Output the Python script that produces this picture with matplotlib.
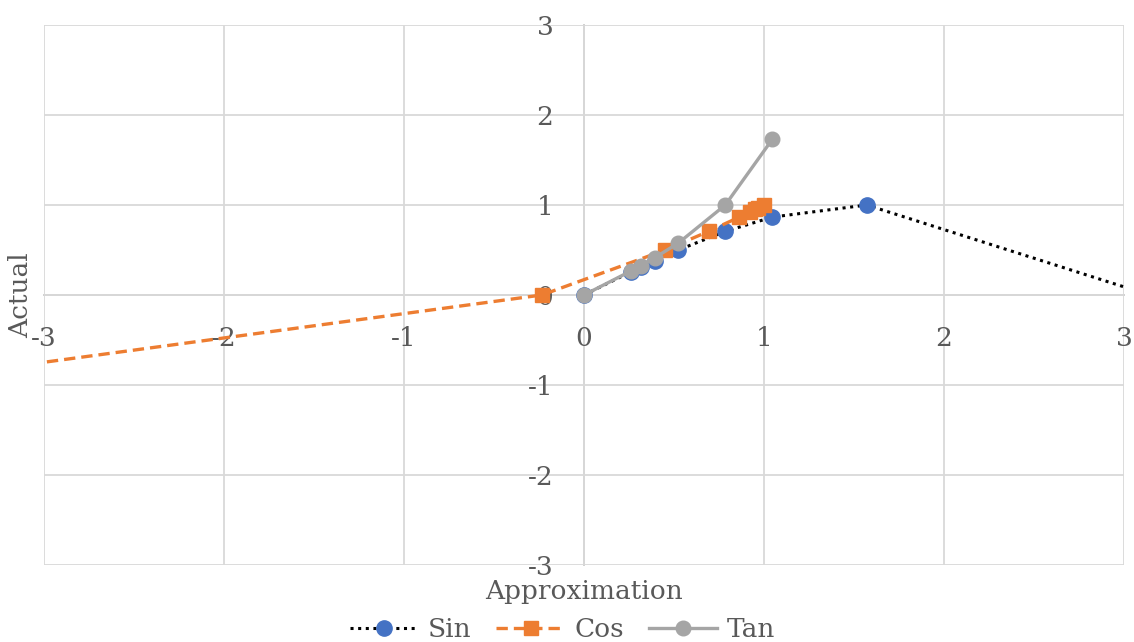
import matplotlib.pyplot as plt

# values (x = approximation, y = actual)
sin_x = [0.0, 0.262, 0.314, 0.393, 0.524, 0.785, 1.047, 1.571, 3.142]
sin_y = [0.0, 0.259, 0.309, 0.383, 0.500, 0.707, 0.866, 1.000, 0.000]

cos_x = [1.000, 0.966, 0.951, 0.923, 0.863, 0.692, 0.452, -0.234, -3.935]
cos_y = [1.000, 0.966, 0.951, 0.924, 0.866, 0.707, 0.500, 0.000, -1.000]

tan_x = [0.0, 0.262, 0.314, 0.393, 0.524, 0.785, 1.047]
tan_y = [0.0, 0.268, 0.325, 0.414, 0.577, 1.000, 1.732]

ticks = [-3, -2, -1, 0, 1, 2, 3]

text_color = '#595959'
grid_color = '#D9D9D9'
plt.rcParams['font.family'] = ['DejaVu Serif']
fs = 19

fig = plt.figure(figsize=(11.34, 6.42), dpi=100)
ax = fig.add_axes([44 / 1134, 77 / 642, 1080 / 1134, 540 / 642])

ax.plot(sin_x, sin_y, color='black', lw=2.2, linestyle=(0, (1, 1.5)),
        marker='o', markersize=11, markerfacecolor='#4472C4',
        markeredgecolor='#4472C4', label='Sin')
ax.plot(cos_x, cos_y, color='#ED7D31', lw=2.4, linestyle=(0, (3.4, 1.8)),
        marker='s', markersize=9.5, markerfacecolor='#ED7D31',
        markeredgecolor='#ED7D31', label='Cos')
ax.plot(tan_x, tan_y, color='#A5A5A5', lw=2.4, linestyle='-',
        marker='o', markersize=10.5, markerfacecolor='#A5A5A5',
        markeredgecolor='#A5A5A5', label='Tan')

ax.set_xlim(-3, 3)
ax.set_ylim(-3, 3)
ax.set_xticks(ticks)
ax.set_yticks(ticks)
ax.set_xticklabels([str(t) for t in ticks])
ax.set_yticklabels([str(t) for t in ticks])

# axes cross at the origin, Excel style
ax.spines['left'].set_position(('data', 0))
ax.spines['bottom'].set_position(('data', 0))
ax.spines['top'].set_visible(False)
ax.spines['right'].set_visible(False)
for s in ['left', 'bottom']:
    ax.spines[s].set_color('#C8C8C8')
    ax.spines[s].set_linewidth(1.3)
    ax.spines[s].set_zorder(0.5)

ax.grid(True, color=grid_color, linewidth=1.3, zorder=0)
ax.set_axisbelow(True)
ax.tick_params(axis='both', length=0, labelsize=fs, labelcolor=text_color)
ax.tick_params(axis='x', pad=22)
ax.tick_params(axis='y', pad=22)

ax.set_xlabel('Approximation', fontsize=fs, color=text_color)
ax.xaxis.set_label_coords(0.5, -0.05)
ax.xaxis.label.set_verticalalignment('center')
ax.set_ylabel('Actual', fontsize=fs, color=text_color)
ax.yaxis.set_label_coords(-0.022, 0.5)
ax.yaxis.label.set_verticalalignment('center')

leg = ax.legend(loc='center', bbox_to_anchor=(0.48, -0.119), ncol=3,
                frameon=False, fontsize=fs, handlelength=2.6,
                handletextpad=0.35, columnspacing=0.95)
for t in leg.get_texts():
    t.set_color(text_color)

fig.savefig('out.png', dpi=100)
